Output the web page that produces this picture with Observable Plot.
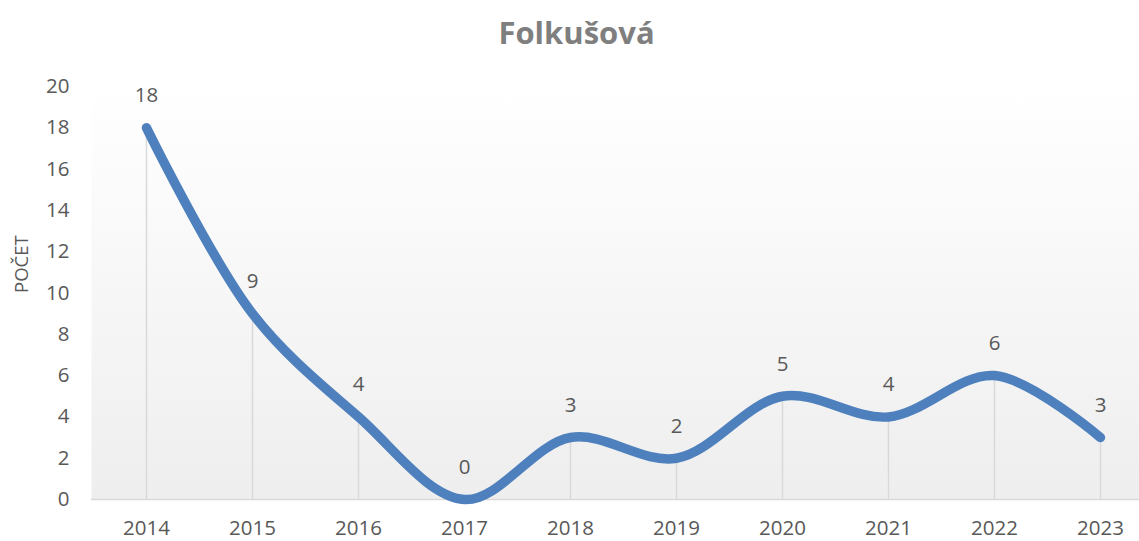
<!DOCTYPE html>
<html>
<head>
<meta charset="utf-8">
<script src="https://cdn.jsdelivr.net/npm/d3@7"></script>
<script src="https://cdn.jsdelivr.net/npm/@observablehq/plot@0.6"></script>
<style>
  body { margin: 0; background: #fff; font-family: "Open Sans", sans-serif; }
  #title { height: 60px; line-height: 64px; text-align: center; font-size: 31px; font-weight: bold; color: #7f7f7f; width: 1139px; box-sizing: border-box; padding-left: 14px; }
</style>
</head>
<body>
<div id="title">Folkušová</div>
<div id="chart"></div>
<script>
const years = ["2014","2015","2016","2017","2018","2019","2020","2021","2022","2023"];
const counts = [18, 9, 4, 0, 3, 2, 5, 4, 6, 3];
const yTicks = [0, 2, 4, 6, 8, 10, 12, 14, 16, 18, 20];
const yLabel = "POČET";

const data = years.map((year, i) => ({year, count: counts[i]}));

const chart = Plot.plot({
  width: 1139,
  height: 481,
  marginLeft: 91,
  marginRight: 0,
  marginTop: 26,
  marginBottom: 42,
  style: {fontFamily: "Open Sans, sans-serif", color: "#595959", fontSize: "20px", background: "transparent"},
  x: {type: "point", domain: years, range: [145, 1101], padding: 0},
  y: {domain: [0, 20]},
  marks: [
    Plot.frame({fill: "url(#bgGrad)", stroke: "none"}),
    Plot.axisY({ticks: yTicks, tickSize: 0, tickPadding: 22, fontSize: 20.5, label: null}),
    Plot.axisX({tickSize: 0, tickPadding: 21, fontSize: 20.5, label: null}),
    Plot.text([yLabel], {frameAnchor: "left", rotate: -90, dx: -69, fontSize: 18.5, fill: "#595959"}),
    Plot.ruleY([0], {stroke: "#d9d9d9", strokeWidth: 1.5}),
    Plot.ruleX(data, {x: "year", y1: 0, y2: "count", stroke: "#d9d9d9", strokeWidth: 1.5}),
    Plot.line(data, {x: "year", y: "count", curve: "catmull-rom", stroke: "#4E80BD", strokeWidth: 9.5, strokeLinecap: "round", strokeLinejoin: "round"}),
    Plot.text(data, {x: "year", y: "count", text: d => String(d.count), dy: -32, fontSize: 20.5, fill: "#595959"})
  ]
});

const ns = "http://www.w3.org/2000/svg";
const defs = document.createElementNS(ns, "defs");
defs.innerHTML = '<linearGradient id="bgGrad" x1="0" y1="0" x2="0" y2="1">' +
  '<stop offset="0" stop-color="#ffffff"/>' +
  '<stop offset="0.12" stop-color="#fdfdfd"/>' +
  '<stop offset="1" stop-color="#eeeeee"/></linearGradient>';
chart.insertBefore(defs, chart.firstChild);
document.getElementById("chart").appendChild(chart);
</script>
</body>
</html>
